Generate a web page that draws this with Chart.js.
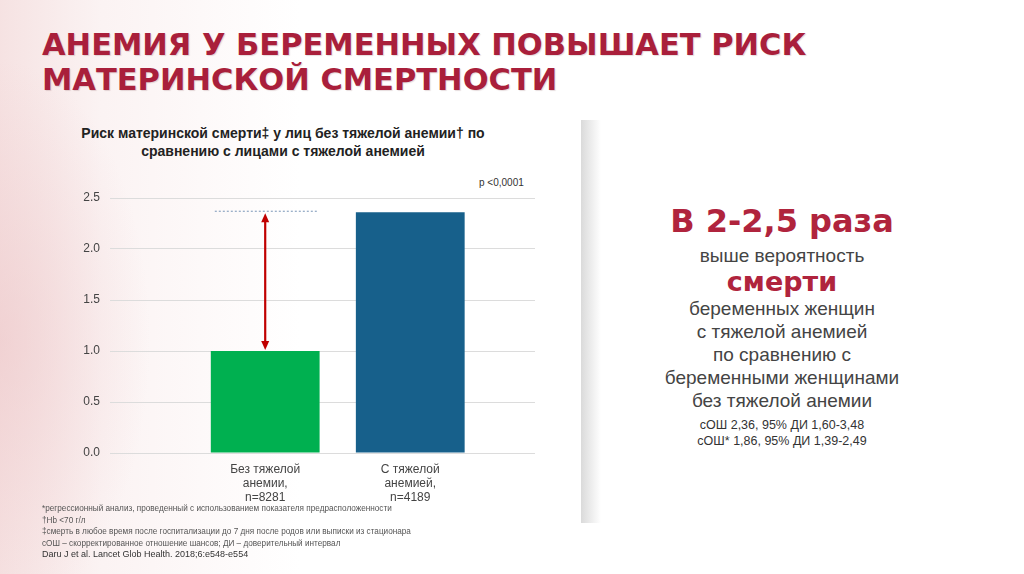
<!DOCTYPE html>
<html>
<head>
<meta charset="utf-8">
<script src="https://cdn.jsdelivr.net/npm/chart.js@4"></script>
<style>
    html, body { margin: 0; padding: 0; }
    body {
        width: 1024px; height: 574px; position: relative; overflow: hidden;
        font-family: "Liberation Sans", Arial, sans-serif;
        background:
            radial-gradient(ellipse 150px 280px at 0px 340px, rgba(236, 196, 198, 0.55), rgba(255, 255, 255, 0) 100%),
            linear-gradient(to right, rgba(242, 214, 214, 0.7) 0px, rgba(246, 228, 228, 0.45) 100px, rgba(255, 255, 255, 0) 300px),
            #ffffff;
    }
    .abs { position: absolute; }
    #heading {
        left: 42px; top: 27px; color: #a91f3b;
        font: bold 30.5px/35px "DejaVu Sans", sans-serif;
        text-shadow: 1px 1px 1px rgba(90, 20, 30, 0.15);
    }
    #chartTitle {
        left: 60px; top: 124px; width: 446px; text-align: center;
        font: bold 14px/18px "Liberation Sans", Arial, sans-serif; color: #222;
    }
    #pval { left: 479px; top: 177px; font-size: 10px; color: #333; }
    #chartBox { left: 60px; top: 185px; width: 500px; height: 330px; }
    #notes { left: 42px; top: 503px; font-size: 8.2px; line-height: 11.5px; color: #555; }
    #notes .src { color: #333; font-size: 9px; }
    #strip {
        left: 581px; top: 120px; width: 20px; height: 403px;
        background: linear-gradient(to right, #dadada, #ffffff);
    }
    #side { left: 602px; top: 201px; width: 360px; text-align: center; color: #444; }
    #side .big { font: bold 32px/40px "DejaVu Sans", sans-serif; color: #b0243d; }
    #side .mid { font-size: 19px; line-height: 23px; }
    #side .first { margin-top: 3px; }
    #side .red { font: bold 27px/27px "DejaVu Sans", sans-serif; color: #b0243d; margin-top: 1px; }
    #side .block { margin-top: 2px; }
    #side .small { font-size: 12.5px; line-height: 16px; margin-top: 5px; color: #333; }
</style>
</head>
<body>
<div id="strip" class="abs"></div>
<div id="heading" class="abs">АНЕМИЯ У БЕРЕМЕННЫХ ПОВЫШАЕТ РИСК<br>МАТЕРИНСКОЙ СМЕРТНОСТИ</div>
<div id="chartTitle" class="abs">Риск материнской смерти‡ у лиц без тяжелой анемии† по<br>сравнению с лицами с тяжелой анемией</div>
<div id="pval" class="abs">p &lt;0,0001</div>
<div id="chartBox" class="abs"><canvas id="bar_chart" width="500" height="330"></canvas></div>
<div id="notes" class="abs">
    *регрессионный анализ, проведенный с использованием показателя предрасположенности<br>
    †Hb &lt;70 г/л<br>
    ‡смерть в любое время после госпитализации до 7 дня после родов или выписки из стационара<br>
    сОШ – скорректированное отношение шансов; ДИ – доверительный интервал<br>
    <span class="src">Daru J et al. Lancet Glob Health. 2018;6:e548-e554</span>
</div>
<div id="side" class="abs">
    <div class="big">В 2-2,5 раза</div>
    <div class="mid first">выше вероятность</div>
    <div class="red">смерти</div>
    <div class="mid block">беременных женщин<br>с тяжелой анемией<br>по сравнению с<br>беременными женщинами<br>без тяжелой анемии</div>
    <div class="small">сОШ 2,36, 95% ДИ 1,60-3,48<br>сОШ* 1,86, 95% ДИ 1,39-2,49</div>
</div>

<script>
// данные графика
const categories = [
    ['Без тяжелой', 'анемии,', 'n=8281'],
    ['С тяжелой', 'анемией,', 'n=4189']
];
const riskValues = [1.0, 2.36];
const barColors = ['#00b050', '#17608b'];
const yTicks = [0, 0.5, 1.0, 1.5, 2.0, 2.5];

// пунктир и красная стрелка между столбцами
const arrowPlugin = {
    id: 'arrowPlugin',
    afterDatasetsDraw(chart) {
        const ctx = chart.ctx;
        const bars = chart.getDatasetMeta(0).data;
        const low = bars[0];
        const high = bars[1];
        const half = low.width / 2;

        ctx.save();
        ctx.strokeStyle = '#8ea6c2';
        ctx.lineWidth = 1.2;
        ctx.setLineDash([2, 2]);
        ctx.beginPath();
        ctx.moveTo(low.x - half + 4, high.y - 1);
        ctx.lineTo(low.x + half - 2, high.y - 1);
        ctx.stroke();

        ctx.setLineDash([]);
        ctx.strokeStyle = '#c00000';
        ctx.fillStyle = '#c00000';
        ctx.lineWidth = 2.2;
        let top = high.y + 1;
        let bottom = low.y - 1;
        ctx.beginPath();
        ctx.moveTo(low.x, top + 6);
        ctx.lineTo(low.x, bottom - 6);
        ctx.stroke();
        ctx.beginPath();
        ctx.moveTo(low.x, top);
        ctx.lineTo(low.x - 4, top + 9);
        ctx.lineTo(low.x + 4, top + 9);
        ctx.closePath();
        ctx.fill();
        ctx.beginPath();
        ctx.moveTo(low.x, bottom);
        ctx.lineTo(low.x - 4, bottom - 9);
        ctx.lineTo(low.x + 4, bottom - 9);
        ctx.closePath();
        ctx.fill();
        ctx.restore();
    }
};

function getRiskChart() {
    let points = [];
    for (let i = 0; i < riskValues.length; i++) {
        points.push({ x: i + 1, y: riskValues[i] });
    }

    return {
        type: 'bar',
        data: {
            datasets: [{
                data: points,
                backgroundColor: barColors,
                borderWidth: 0,
                categoryPercentage: 1.0,
                barPercentage: 0.75
            }]
        },
        options: {
            responsive: false,
            animation: false,
            layout: { padding: { left: 0, right: 25, top: 13, bottom: 0 } },
            plugins: { legend: { display: false }, tooltip: { enabled: false } },
            scales: {
                x: {
                    type: 'linear',
                    offset: false,
                    bounds: 'data',
                    min: -0.07,
                    max: 2.86,
                    grid: { display: false },
                    border: { display: false },
                    afterBuildTicks: (scale) => {
                        scale.ticks = categories.map((c, i) => ({ value: i + 1 }));
                    },
                    afterFit: (scale) => { scale.height = 62; },
                    ticks: {
                        autoSkip: false,
                        maxRotation: 0,
                        padding: 2,
                        color: '#444',
                        font: { family: 'Liberation Sans', size: 12, lineHeight: 1.17 },
                        callback: (value) => categories[value - 1]
                    }
                },
                y: {
                    min: 0,
                    max: 2.5,
                    grid: { color: '#dcdcdc', lineWidth: 1, drawTicks: true, tickLength: 10, tickColor: 'rgba(0,0,0,0)' },
                    border: { display: false },
                    afterBuildTicks: (scale) => {
                        scale.ticks = yTicks.map(v => ({ value: v }));
                    },
                    afterFit: (scale) => { scale.width = 50; },
                    ticks: {
                        padding: 0,
                        color: '#444',
                        font: { family: 'Liberation Sans', size: 12 },
                        callback: (value) => value.toFixed(1)
                    }
                }
            }
        },
        plugins: [arrowPlugin]
    };
}

new Chart(document.getElementById('bar_chart').getContext('2d'), getRiskChart());
</script>
</body>
</html>
